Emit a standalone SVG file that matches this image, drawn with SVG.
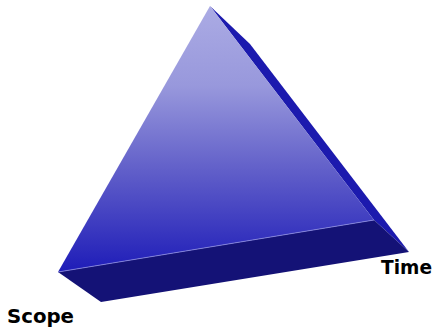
<svg xmlns="http://www.w3.org/2000/svg" width="436" height="331" viewBox="0 0 436 331">
<defs>
<linearGradient id="front" x1="0" y1="0" x2="0" y2="1" gradientUnits="objectBoundingBox">
<stop offset="0" stop-color="#ABABE4"/>
<stop offset="0.3" stop-color="#9898DC"/>
<stop offset="0.6" stop-color="#6462CA"/>
<stop offset="1" stop-color="#1E1CB8"/>
</linearGradient>
<style>
.lbl{font-family:"Comic Sans MS","DejaVu Sans",sans-serif;font-weight:bold;font-size:20px;fill:#000}
</style>
</defs>
<g id="pyramid">
<polygon id="side" points="210,6 250,44 409,252 374,220" fill="#1C1AAE"/>
<polygon id="bottom" points="58,272 374,220 409,252 101,302" fill="#141276"/>
<polygon id="front-face" points="210,6 374,220 58,272" fill="url(#front)"/>
<line x1="58" y1="272" x2="374" y2="220" stroke="#8C8CE0" stroke-width="0.8"/>
</g>
<g id="label-time"><text class="lbl" x="381" y="274" textLength="51" lengthAdjust="spacingAndGlyphs">Time</text></g>
<g id="label-scope"><text class="lbl" x="7" y="323" textLength="67" lengthAdjust="spacingAndGlyphs">Scope</text></g>
</svg>
